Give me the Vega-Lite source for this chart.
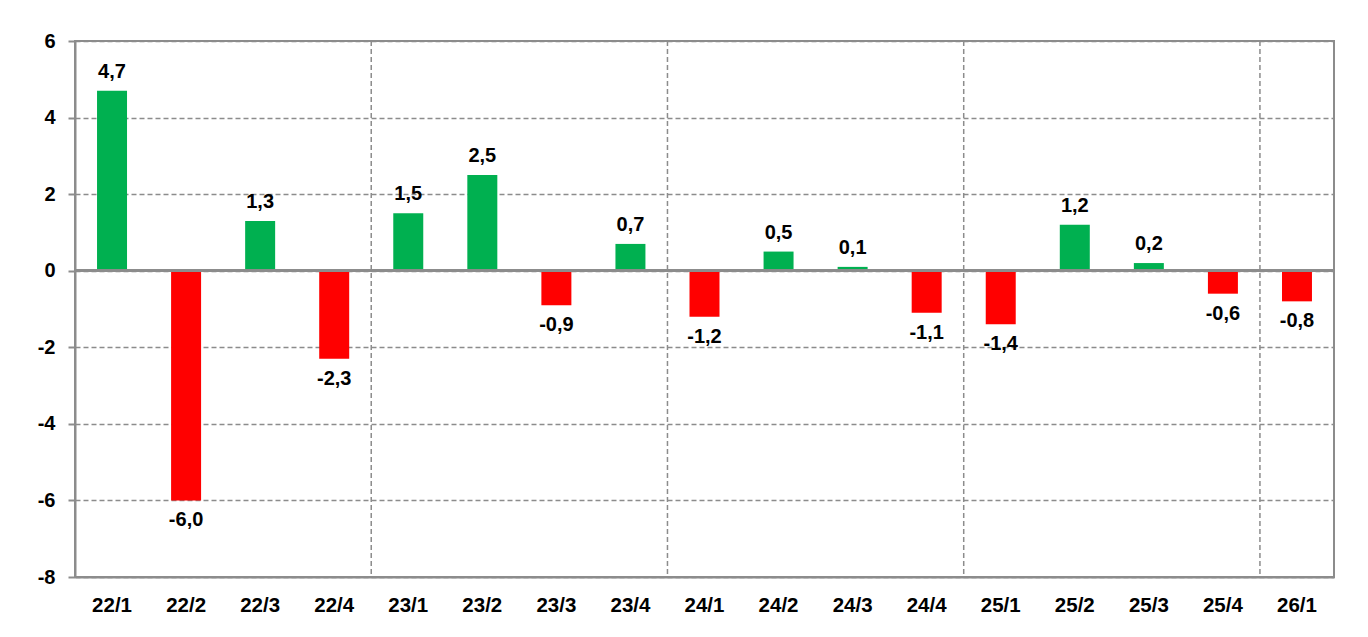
{
  "$schema": "https://vega.github.io/schema/vega-lite/v6.json",
  "width": 1259,
  "height": 536,
  "autosize": "none",
  "padding": {"left": 75, "top": 41, "right": 34, "bottom": 60},
  "background": "white",
  "config": {
    "locale": {"number": {"decimal": ",", "thousands": ".", "grouping": [3], "currency": ["", ""], "minus": "-"}},
    "view": {"stroke": "#8c8c8c", "strokeWidth": 2},
    "font": "Liberation Sans"
  },
  "data": {
    "values": [
      {"q": "22/1", "v": 4.7},
      {"q": "22/2", "v": -6.0},
      {"q": "22/3", "v": 1.3},
      {"q": "22/4", "v": -2.3},
      {"q": "23/1", "v": 1.5},
      {"q": "23/2", "v": 2.5},
      {"q": "23/3", "v": -0.9},
      {"q": "23/4", "v": 0.7},
      {"q": "24/1", "v": -1.2},
      {"q": "24/2", "v": 0.5},
      {"q": "24/3", "v": 0.1},
      {"q": "24/4", "v": -1.1},
      {"q": "25/1", "v": -1.4},
      {"q": "25/2", "v": 1.2},
      {"q": "25/3", "v": 0.2},
      {"q": "25/4", "v": -0.6},
      {"q": "26/1", "v": -0.8}
    ]
  },
  "resolve": {"scale": {"x": "independent"}},
  "layer": [
    {
      "mark": {"type": "rule", "stroke": "#8c8c8c", "strokeWidth": 1.5, "strokeDash": [5, 3]},
      "encoding": {
        "x": {"field": "q", "type": "ordinal", "sort": null, "bandPosition": 0,
              "scale": {"paddingInner": 0, "paddingOuter": 0}, "axis": null},
        "strokeOpacity": {"condition": {"test": "datum.q != '22/1' && slice(datum.q, -2) == '/1'", "value": 1}, "value": 0}
      }
    },
    {
      "layer": [
        {
          "mark": {"type": "bar"},
          "encoding": {
            "x": {"field": "q", "type": "ordinal", "sort": null,
                  "scale": {"paddingInner": 0.595, "paddingOuter": 0.2975},
                  "axis": {"title": null, "labelAngle": 0, "ticks": false, "domainColor": "#8c8c8c", "domainWidth": 2,
                           "labelFont": "Liberation Sans", "labelFontWeight": "bold", "labelFontSize": 20.5,
                           "labelColor": "#000000", "labelPadding": 18, "grid": false}},
            "y": {"field": "v", "type": "quantitative",
                  "scale": {"domain": [-8, 6], "nice": false, "zero": false},
                  "axis": {"title": null, "values": [-8, -6, -4, -2, 0, 2, 4, 6], "format": "d",
                           "grid": true, "gridColor": "#8c8c8c", "gridDash": [5, 3], "gridWidth": 1.5,
                           "domainColor": "#8c8c8c", "domainWidth": 2, "tickColor": "#8c8c8c", "tickWidth": 2, "tickSize": 7,
                           "labelFont": "Liberation Sans", "labelFontWeight": "bold", "labelFontSize": 20,
                           "labelColor": "#000000", "labelPadding": 13}},
            "fill": {"condition": {"test": "datum.v >= 0", "value": "#00B050"}, "value": "#FF0000"}
          }
        },
        {
          "mark": {"type": "rule", "stroke": "#8c8c8c", "strokeWidth": 2},
          "encoding": {"y": {"datum": 0}}
        },
        {
          "transform": [{"filter": "datum.v >= 0"}],
          "mark": {"type": "text", "baseline": "bottom", "dy": -9, "fontSize": 20, "fontWeight": "bold", "font": "Liberation Sans", "color": "#000000"},
          "encoding": {
            "x": {"field": "q", "type": "ordinal", "sort": null, "bandPosition": 0.5},
            "y": {"field": "v", "type": "quantitative"},
            "text": {"field": "v", "type": "quantitative", "format": ".1f"}
          }
        },
        {
          "transform": [{"filter": "datum.v < 0"}],
          "mark": {"type": "text", "baseline": "top", "dy": 10, "fontSize": 20, "fontWeight": "bold", "font": "Liberation Sans", "color": "#000000"},
          "encoding": {
            "x": {"field": "q", "type": "ordinal", "sort": null, "bandPosition": 0.5},
            "y": {"field": "v", "type": "quantitative"},
            "text": {"field": "v", "type": "quantitative", "format": ".1f"}
          }
        }
      ]
    }
  ]
}
